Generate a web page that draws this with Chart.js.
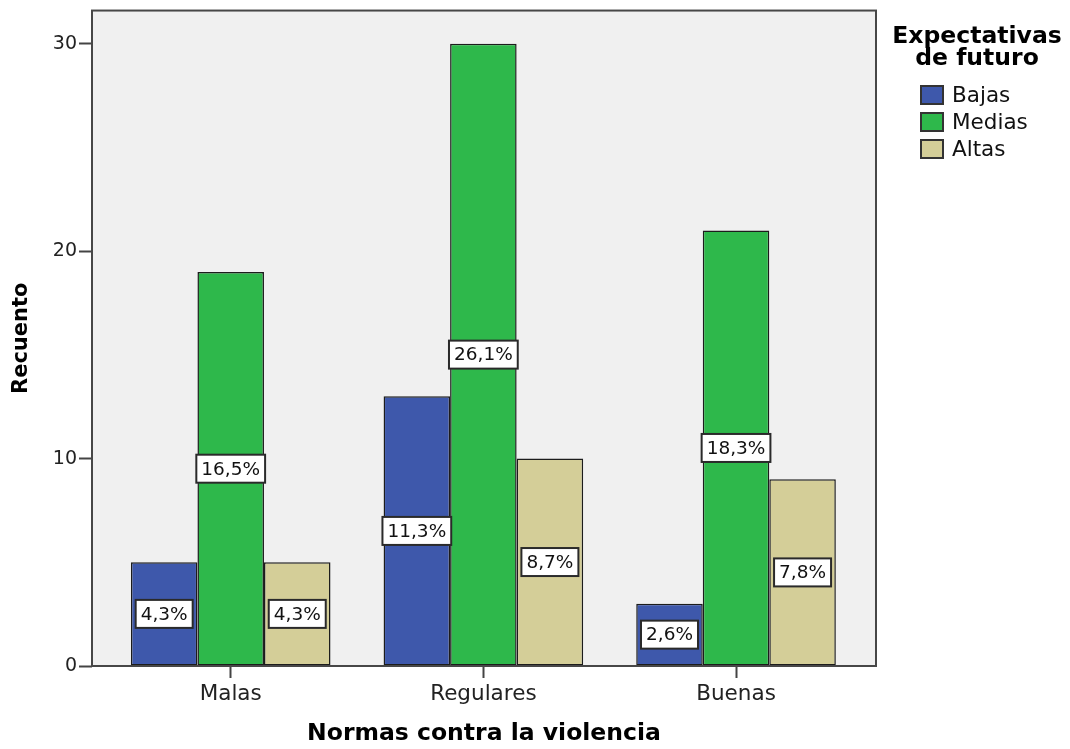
<!DOCTYPE html>
<html>
<head>
<meta charset="utf-8">
<script src="https://cdn.jsdelivr.net/npm/chart.js@4.4.0/dist/chart.umd.min.js"></script>
<style>
html, body { margin: 0; padding: 0; background: #fff; }
#wrap { width: 1070px; height: 749px; position: relative; }
</style>
</head>
<body>
<div id="wrap"><canvas id="chart"></canvas></div>
<script>
const categories = ['Malas', 'Regulares', 'Buenas'];
const seriesNames = ['Bajas', 'Medias', 'Altas'];
const bajas = [5, 13, 3];
const medias = [19, 30, 21];
const altas = [5, 10, 9];
const bajasPct = ['4,3%', '11,3%', '2,6%'];
const mediasPct = ['16,5%', '26,1%', '18,3%'];
const altasPct = ['4,3%', '8,7%', '7,8%'];
const yTicks = [0, 10, 20, 30];

const seriesColors = ['#3e58ab', '#2eb84b', '#d4ce98'];
const font = 'DejaVu Sans';

const datasets = [bajas, medias, altas].map((vals, i) => ({
    label: seriesNames[i],
    data: vals.map((v, j) => ({ x: j, y: v })),
    pct: [bajasPct, mediasPct, altasPct][i],
    backgroundColor: seriesColors[i],
    borderColor: '#1c1c1c',
    borderWidth: 1.5,
    borderSkipped: false,
    categoryPercentage: 0.79,
    barPercentage: 1
}));

// gray plot background + frame
const plotFrame = {
    id: 'plotFrame',
    beforeDraw(chart) {
        const { ctx, chartArea: a } = chart;
        ctx.save();
        ctx.fillStyle = '#f0f0f0';
        ctx.fillRect(a.left, a.top, a.right - a.left, a.bottom - a.top);
        ctx.restore();
    },
    afterDatasetsDraw(chart) {
        const { ctx, chartArea: a } = chart;
        ctx.save();
        ctx.strokeStyle = '#474747';
        ctx.lineWidth = 2;
        ctx.strokeRect(a.left, a.top, a.right - a.left, a.bottom - a.top);
        ctx.restore();
    }
};

// percentage boxes in the middle of each bar
const pctLabels = {
    id: 'pctLabels',
    afterDatasetsDraw(chart) {
        const ctx = chart.ctx;
        ctx.save();
        ctx.font = `18.5px "${font}"`;
        ctx.textAlign = 'center';
        ctx.textBaseline = 'middle';
        chart.data.datasets.forEach((ds, i) => {
            chart.getDatasetMeta(i).data.forEach((bar, j) => {
                const txt = ds.pct[j];
                const w = ctx.measureText(txt).width + 10;
                const h = 28;
                const cy = (bar.y + bar.base) / 2;
                ctx.fillStyle = '#fff';
                ctx.fillRect(bar.x - w / 2, cy - h / 2, w, h);
                ctx.strokeStyle = '#2a2a2a';
                ctx.lineWidth = 2;
                ctx.strokeRect(bar.x - w / 2, cy - h / 2, w, h);
                ctx.fillStyle = '#111';
                ctx.fillText(txt, bar.x, cy + 1);
            });
        });
        ctx.restore();
    }
};

// legend at the right, title on two lines
const sideLegend = {
    id: 'sideLegend',
    afterDraw(chart) {
        const ctx = chart.ctx;
        const x0 = chart.chartArea.right;
        ctx.save();
        ctx.fillStyle = '#000';
        ctx.textAlign = 'center';
        ctx.textBaseline = 'alphabetic';
        ctx.font = `bold 23.5px "${font}"`;
        ctx.fillText('Expectativas', x0 + 101, 43);
        ctx.fillText('de futuro', x0 + 101, 65);
        ctx.font = `21.5px "${font}"`;
        ctx.textAlign = 'left';
        ctx.textBaseline = 'middle';
        chart.data.datasets.forEach((ds, i) => {
            const cy = 95 + i * 27;
            ctx.fillStyle = ds.backgroundColor;
            ctx.fillRect(x0 + 44, cy - 10, 24, 20);
            ctx.strokeStyle = '#333';
            ctx.lineWidth = 2;
            ctx.strokeRect(x0 + 45, cy - 9, 22, 18);
            ctx.fillStyle = '#111';
            ctx.fillText(ds.label, x0 + 76, cy + 1);
        });
        ctx.restore();
    }
};

new Chart(document.getElementById('chart'), {
    type: 'bar',
    data: { datasets },
    options: {
        responsive: true,
        maintainAspectRatio: false,
        animation: false,
        layout: { padding: { top: 0, right: 194, left: 0, bottom: 0 } },
        plugins: { legend: { display: false }, tooltip: { enabled: false } },
        scales: {
            x: {
                type: 'linear',
                offset: false,
                min: -0.549,
                max: 2.554,
                afterBuildTicks: s => { s.ticks = categories.map((c, i) => ({ value: i })); },
                afterFit: s => { s.height = 83; },
                grid: { offset: false, drawOnChartArea: false, drawTicks: true, tickLength: 12, tickColor: '#444', tickWidth: 2 },
                border: { display: false },
                ticks: {
                    callback: v => categories[v],
                    font: { family: font, size: 21.5 },
                    color: '#222',
                    padding: 4,
                    maxRotation: 0,
                    autoSkip: false
                },
                title: {
                    display: true,
                    text: 'Normas contra la violencia',
                    font: { family: font, size: 23.5, weight: 'bold' },
                    color: '#000',
                    padding: { top: 0, bottom: 1 }
                }
            },
            y: {
                min: 0,
                max: 31.6,
                afterBuildTicks: s => { s.ticks = yTicks.map(v => ({ value: v })); },
                afterFit: s => { s.width = 92; },
                grid: { drawOnChartArea: false, drawTicks: true, tickLength: 13, tickColor: '#444', tickWidth: 2 },
                border: { display: false },
                ticks: { font: { family: font, size: 19, lineHeight: 0.9 }, color: '#222', padding: 2 },
                title: {
                    display: true,
                    text: 'Recuento',
                    font: { family: font, size: 21, weight: 'bold' },
                    color: '#000',
                    padding: { top: 9.4, bottom: 0 }
                }
            }
        }
    },
    plugins: [plotFrame, pctLabels, sideLegend]
});
</script>
</body>
</html>
